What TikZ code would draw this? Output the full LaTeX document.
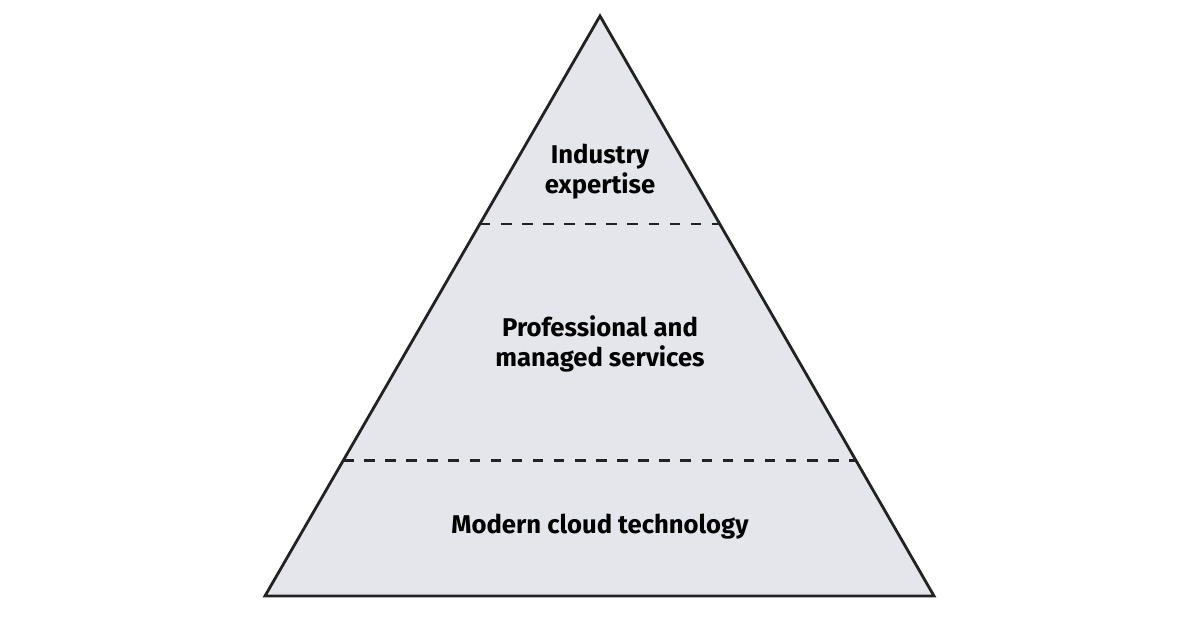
\documentclass[tikz,border=0pt]{standalone}
\usepackage{fontspec}
\setmainfont{Fira Sans}
\usepackage{xcolor}
\definecolor{pyrFill}{HTML}{E4E6EB}
\definecolor{pyrLine}{HTML}{222222}
\usetikzlibrary{calc}
\tikzset{
    layer/.style={
        font=\fontsize{7.3}{8.6}\selectfont\bfseries,
        align=center,
        text=black
    },
    divider/.style={
        dashed,
        thick,
        color=pyrLine
    }
}
\begin{document}
\begin{tikzpicture}
    \useasboundingbox (0,0) rectangle (12,6.3);
    % Pyramid corners
    \coordinate (apex) at (6.00,6.14);
    \coordinate (bl) at (2.65,0.34);
    \coordinate (br) at (9.34,0.34);
    \fill[pyrFill] (apex) -- (br) -- (bl) -- cycle;

    % Dividers
    \coordinate (d1l) at ($(apex)!0.3586!(bl)$);
    \coordinate (d1r) at ($(apex)!0.3586!(br)$);
    \coordinate (d2l) at ($(apex)!0.767!(bl)$);
    \coordinate (d2r) at ($(apex)!0.767!(br)$);
    \draw[divider] (d1l) -- (d1r);
    \draw[divider] (d2l) -- (d2r);

    \draw[thick, color=pyrLine, line join=miter] (apex) -- (br) -- (bl) -- cycle;

    % Labels
    \node[layer] (top) at (6.00,4.58) {Industry\\expertise};
    \node[layer] (mid) at (6.00,2.86) {Professional and\\managed services};
    \node[layer] (base) at (6.00,1.03) {Modern cloud technology};
\end{tikzpicture}
\end{document}
